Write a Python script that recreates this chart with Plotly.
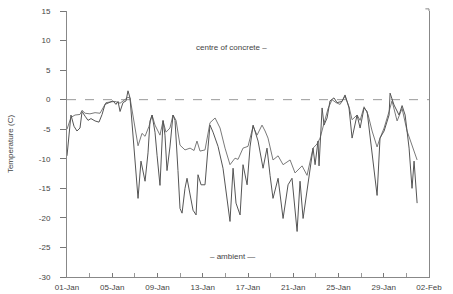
import pandas as pd
import plotly.graph_objects as go

# ---- data (time in days after 01-Jan, temperature in C) ----
ambient_days = [0.0, 0.35, 0.62, 0.88, 1.15, 1.33, 1.6, 1.86, 2.12, 2.48, 2.83, 3.1, 3.36, 3.71,
                4.07, 4.33, 4.51, 4.69, 4.95, 5.22, 5.39, 5.57, 5.92, 6.28, 6.54, 6.9, 7.16, 7.34,
                7.52, 7.78, 7.96, 8.22, 8.49, 8.66, 8.84, 9.1, 9.37, 9.55, 9.81, 9.99, 10.17, 10.43,
                10.61, 10.88, 11.14, 11.41, 11.58, 11.85, 12.2, 12.47, 12.64, 12.91, 13.35, 13.79,
                14.15, 14.41, 14.68, 14.94, 15.3, 15.56, 15.92, 16.18, 16.45, 16.89, 17.33, 17.68,
                17.95, 18.21, 18.66, 19.01, 19.1, 19.54, 19.89, 20.34, 20.6, 20.87, 21.31, 21.75,
                21.93, 22.19, 22.28, 22.55, 22.72, 22.99, 23.25, 23.6, 23.87, 24.31, 24.58, 24.93,
                25.2, 25.46, 25.64, 25.91, 26.26, 26.53, 26.79, 27.23, 27.41, 27.67, 28.03, 28.47,
                28.56, 28.91, 29.35, 29.62, 29.89, 30.24, 30.5, 30.68, 30.95]
ambient_temp = [-9.5, -2.6, -4.5, -5.3, -4.8, -2.0, -2.8, -3.5, -3.2, -3.6, -3.8, -2.5, -0.8, -0.5,
                -0.2, -0.8, -0.3, -2.0, -0.5, -0.2, 1.5, 0.3, -8.0, -16.7, -10.4, -13.8, -9.0, -3.6,
                -2.6, -5.5, -9.4, -14.5, -3.5, -6.0, -12.0, -8.0, -2.6, -3.5, -12.0, -18.4, -19.2, -15.0,
                -13.3, -16.1, -18.7, -19.5, -12.7, -14.4, -14.4, -8.0, -4.3, -5.5, -7.9, -11.6,
                -16.7, -20.6, -11.6, -17.5, -19.5, -11.0, -14.4, -8.0, -4.3, -7.0, -11.6, -8.2,
                -12.8, -16.7, -13.3, -18.4, -20.1, -14.4, -13.3, -22.3, -13.8, -20.1, -13.8, -8.2,
                -11.0, -7.0, -11.2, -1.4, -4.3, -3.1, -0.2, 0.3, -0.5, -0.3, 0.8, -1.4,
                -6.5, -4.0, -2.6, -4.8, -1.4, -2.0, -6.0, -13.8, -16.2, -6.5, -5.3, -2.6,
                1.1, -0.9, -2.6, -1.0, -2.6, -8.2, -15.0, -10.4, -17.5]

concrete_days = [0.0, 0.35, 0.71, 1.15, 1.33, 1.6, 2.03, 2.48, 2.92, 3.18, 3.45, 3.8, 4.24, 4.69,
                 5.04, 5.39, 5.57, 5.92, 6.28, 6.63, 6.9, 7.25, 7.52, 7.78, 8.22, 8.49, 8.75, 9.1,
                 9.37, 9.64, 9.99, 10.43, 10.88, 11.23, 11.49, 11.76, 12.2, 12.64, 13.09, 13.53,
                 13.97, 14.41, 14.85, 15.12, 15.56, 16.0, 16.45, 16.8, 17.24, 17.51, 17.77, 18.21,
                 18.66, 19.1, 19.72, 20.16, 20.78, 21.22, 21.75, 22.1, 22.37, 22.72, 23.08, 23.43,
                 23.78, 24.14, 24.58, 24.93, 25.2, 25.64, 25.91, 26.26, 26.61, 26.97, 27.41, 27.67,
                 28.03, 28.47, 28.73, 29.18, 29.62, 30.06, 30.68, 30.95]
concrete_temp = [-5.0, -3.0, -2.6, -2.5, -1.8, -2.3, -2.4, -2.2, -2.3, -1.5, -0.5, -0.4, -0.3, -0.6,
                 -0.1, 0.4, 0.3, -4.0, -7.8, -5.7, -6.2, -4.5, -2.6, -4.3, -6.0, -3.6, -5.5, -4.8,
                 -2.6, -3.5, -7.7, -8.5, -8.2, -8.6, -7.0, -8.7, -8.5, -3.9, -3.1, -4.8,
                 -8.2, -11.0, -9.9, -10.1, -8.2, -7.9, -4.5, -6.0, -4.3, -5.3, -6.5, -10.2,
                 -9.5, -11.0, -10.2, -12.4, -11.2, -12.8, -8.2, -7.5, -6.5, -4.0, -1.5, 0.0,
                 -0.5, -0.8, 0.6, -1.2, -3.4, -2.6, -3.5, -1.2, -2.5, -5.3, -8.0, -6.5,
                 -4.8, -2.0, -0.2, -3.6, -1.5, -5.3, -8.5, -10.2]

y_ticks = [15, 10, 5, 0, -5, -10, -15, -20, -25, -30]
y_labels = ["15", "10", "5", "0", "-5", "-10", "-15", "-20", "-25", "-30"]

start = pd.Timestamp("1990-01-01")
amb_x = start + pd.to_timedelta(ambient_days, unit="D")
con_x = start + pd.to_timedelta(concrete_days, unit="D")

FONT = "Liberation Sans"
fig = go.Figure()
fig.add_trace(go.Scatter(x=con_x, y=concrete_temp, mode="lines", name="centre of concrete",
                         line=dict(color="#7a7a7a", width=1)))
fig.add_trace(go.Scatter(x=amb_x, y=ambient_temp, mode="lines", name="ambient",
                         line=dict(color="#555555", width=1)))

# dashed zero line
fig.add_shape(type="line", xref="paper", x0=0, x1=1, yref="y", y0=0, y1=0,
              line=dict(color="#999999", width=1, dash="dash"), layer="below")
# small extension of the right-hand axis above the top with a short tick
fig.add_shape(type="line", xref="paper", x0=1, x1=1, yref="paper", y0=1, y1=1.008,
              line=dict(color="#888", width=1))
fig.add_shape(type="line", xref="paper", x0=0.99, x1=1, yref="paper", y0=1.008, y1=1.008,
              line=dict(color="#888", width=1))

fig.add_annotation(text="centre of concrete \u2013", xref="paper", yref="y", x=0.455, y=8.8,
                   showarrow=False, font=dict(family=FONT, size=8, color="#444"))
fig.add_annotation(text="\u2013 ambient \u2014", xref="paper", yref="y", x=0.458, y=-26.5,
                   showarrow=False, font=dict(family=FONT, size=8, color="#444"))

fig.update_layout(
    width=453, height=294,
    margin=dict(l=67, r=24, t=11, b=17, autoexpand=False),
    plot_bgcolor="white", paper_bgcolor="white",
    showlegend=False,
    font=dict(family=FONT, size=8, color="#444"),
    xaxis=dict(type="date", range=[start, start + pd.Timedelta(days=32)],
               tick0=start, dtick=4 * 86400000, tickformat="%d-%b",
               ticks="inside", ticklen=4, tickcolor="#777",
               minor=dict(dtick=2 * 86400000, ticks="inside", ticklen=4, tickcolor="#999"),
               showline=True, linecolor="#888", linewidth=1,
               showgrid=False, zeroline=False, ticklabelstandoff=2, automargin=False,
               tickfont=dict(family=FONT, size=8, color="#444")),
    yaxis=dict(range=[-30, 15], tickvals=y_ticks, ticktext=y_labels,
               ticks="outside", ticklen=6, tickcolor="#777",
               showline=True, linecolor="#888", linewidth=1, mirror=True,
               showgrid=False, zeroline=False, ticklabelstandoff=8, automargin=False,
               title=dict(text="Temperature (C)", standoff=24,
                          font=dict(family=FONT, size=8, color="#444")),
               tickfont=dict(family=FONT, size=8, color="#444")),
)

fig.write_html("out.html", config={"displayModeBar": False},
               post_script="document.body.style.margin='0';")
